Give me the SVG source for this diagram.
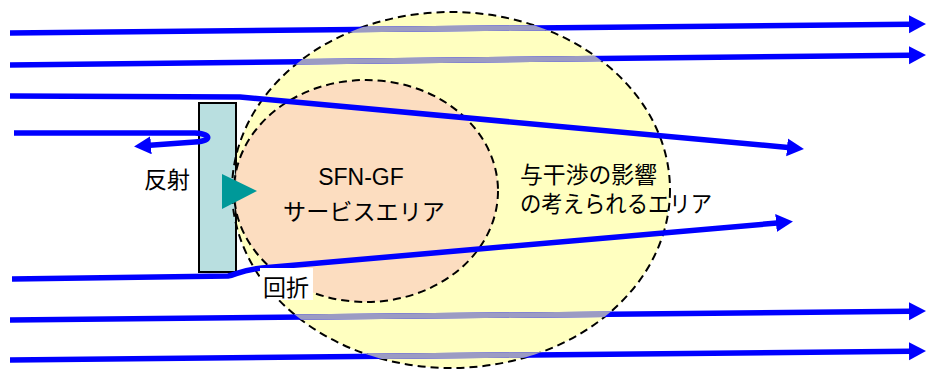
<svg xmlns="http://www.w3.org/2000/svg" width="927" height="369" viewBox="0 0 927 369">
<style>
.ray{fill:none;stroke:#0000ff;stroke-width:5.5;stroke-linejoin:round}
.ray-in{fill:none;stroke:#9b9bc3;stroke-width:5.5}
.dash{fill:none;stroke:#000;stroke-width:2;stroke-dasharray:8 5}
.lbl{font-family:"Liberation Sans","Noto Sans CJK JP",sans-serif;font-size:23px;fill:#000}
</style>
<defs>
<marker id="ah" markerUnits="userSpaceOnUse" markerWidth="20" markerHeight="20" refX="1" refY="9" orient="auto">
<path d="M0,0 L17,9 L0,18 z" fill="#0000ff"/>
</marker>
<clipPath id="outerClip"><ellipse cx="451" cy="190" rx="219" ry="178"/></clipPath>
</defs>
<rect width="927" height="369" fill="#fff"/>
<g id="interference-area">
<ellipse cx="451" cy="190" rx="219" ry="178" fill="#ffffc0"/>
</g>
<g id="wall">
<rect x="199" y="103" width="37" height="169" fill="#b9dfe0" stroke="#000" stroke-width="2"/>
</g>
<g id="service-area">
<ellipse cx="366" cy="191" rx="132" ry="111" fill="#fcd9c0" fill-opacity="0.9"/>
</g>
<g id="outlines">
<ellipse class="dash" cx="451" cy="190" rx="219" ry="178"/>
<ellipse class="dash" cx="366" cy="191" rx="132" ry="111"/>
</g>
<g id="transmitter">
<polygon points="222,174 222,209 257,191" fill="#009999"/>
</g>
<g id="connectors">
<path class="ray" d="M10,33 L910,24.2" marker-end="url(#ah)"/>
<path class="ray" d="M10,65 L910,55.2" marker-end="url(#ah)"/>
<path class="ray" d="M10,320 L910,311.2" marker-end="url(#ah)"/>
<path class="ray" d="M10,360 L910,351.2" marker-end="url(#ah)"/>
<g clip-path="url(#outerClip)">
<path class="ray-in" d="M10,33 L910,24.2"/>
<path class="ray-in" d="M10,65 L910,55.2"/>
<path class="ray-in" d="M10,320 L910,311.2"/>
<path class="ray-in" d="M10,360 L910,351.2"/>
</g>
<path class="ray" d="M10,96 L240,97 L788,147.5" marker-end="url(#ah)"/>
<path class="ray" d="M14,133 L195,133 C212,134 212,141 195,142 L150,145.3" marker-end="url(#ah)"/>
<path class="ray" d="M12,279 L228,276 C236,275 240,270 262,268 L777,223" marker-end="url(#ah)"/>
</g>
<g id="labels">
<text class="lbl" x="144" y="188">反射</text>
<text class="lbl" x="361" y="185" text-anchor="middle" font-size="24">SFN-GF</text>
<text class="lbl" x="283" y="220" textLength="162" lengthAdjust="spacingAndGlyphs">サービスエリア</text>
<text class="lbl" x="520" y="183" textLength="137" lengthAdjust="spacingAndGlyphs">与干渉の影響</text>
<text class="lbl" x="520" y="212" textLength="192" lengthAdjust="spacingAndGlyphs">の考えられるエリア</text>
<rect x="260" y="268" width="53" height="32" fill="#fff"/>
<text class="lbl" x="263" y="296">回折</text>
</g>
</svg>
